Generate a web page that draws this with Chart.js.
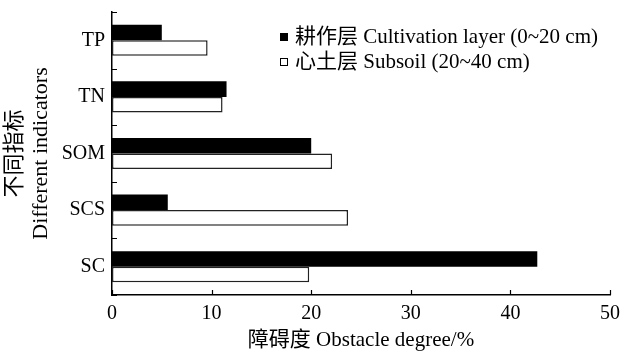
<!DOCTYPE html>
<html>
<head>
<meta charset="utf-8">
<script src="https://cdn.jsdelivr.net/npm/chart.js@4/dist/chart.umd.min.js"></script>
<style>
  html, body { margin: 0; padding: 0; background: #fff; }
  #wrap { width: 622px; height: 353px; position: relative; }
</style>
</head>
<body>
<div id="wrap"><canvas id="c" width="622" height="353"></canvas></div>
<script>
// Indicators (top to bottom) and obstacle degree (%) per soil layer
const indicators = ['TP', 'TN', 'SOM', 'SCS', 'SC'];
const cultivationLayer = [5.0, 11.5, 20.0, 5.6, 42.7];
const subsoilLayer = [9.6, 11.1, 22.1, 23.7, 19.8];
const xTicks = [0, 10, 20, 30, 40, 50];
const seriesLabels = ['耕作层 Cultivation layer (0~20 cm)', '心土层 Subsoil (20~40 cm)'];

const SERIF = '"Liberation Serif", "Times New Roman", "Noto Sans CJK SC", serif';

// Inward tick marks on both axes
const innerTicks = {
  id: 'innerTicks',
  afterDraw(chart) {
    const { ctx, scales: { x, y } } = chart;
    ctx.save();
    ctx.strokeStyle = '#000';
    ctx.lineWidth = 1.2;
    ctx.beginPath();
    xTicks.forEach(v => {
      const px = Math.round(x.getPixelForValue(v)) + 0.5;
      ctx.moveTo(px, y.bottom);
      ctx.lineTo(px, y.bottom - 5);
    });
    const n = indicators.length;
    const half = (y.getPixelForValue(1) - y.getPixelForValue(0)) / 2;
    for (let i = 0; i <= n; i++) {
      const py = Math.round(y.getPixelForValue(i) - half) + 0.5;
      ctx.moveTo(x.left, py);
      ctx.lineTo(x.left + 5, py);
    }
    ctx.stroke();
    ctx.restore();
  }
};

// Legend drawn as square markers with text, top right of the plot
const boxLegend = {
  id: 'boxLegend',
  afterDraw(chart) {
    const { ctx } = chart;
    ctx.save();
    ctx.font = '21px ' + SERIF;
    ctx.textBaseline = 'middle';
    const rows = [
      { y: 37, fill: '#000' },
      { y: 62, fill: '#fff' }
    ];
    rows.forEach((r, i) => {
      ctx.fillStyle = r.fill;
      ctx.fillRect(280, r.y - 4, 8, 8);
      ctx.strokeStyle = '#000';
      ctx.lineWidth = 1;
      ctx.strokeRect(280.5, r.y - 3.5, 7, 7);
      ctx.fillStyle = '#000';
      ctx.fillText(seriesLabels[i], 295, r.y);
    });
    ctx.restore();
  }
};

new Chart(document.getElementById('c'), {
  type: 'bar',
  data: {
    labels: indicators,
    datasets: [
      {
        label: seriesLabels[0],
        data: cultivationLayer,
        backgroundColor: '#000',
        borderColor: '#000',
        borderWidth: 0
      },
      {
        label: seriesLabels[1],
        data: subsoilLayer,
        backgroundColor: '#fff',
        borderColor: '#222',
        borderWidth: 1.5,
        borderSkipped: false
      }
    ]
  },
  options: {
    indexAxis: 'y',
    responsive: false,
    animation: false,
    devicePixelRatio: 1,
    categoryPercentage: 0.55,
    barPercentage: 1.0,
    layout: { padding: { left: 0, top: 12, right: 12, bottom: 0 } },
    plugins: { legend: { display: false }, tooltip: { enabled: false } },
    scales: {
      x: {
        type: 'linear',
        min: 0,
        max: 50,
        afterBuildTicks(s) { s.ticks = xTicks.map(v => ({ value: v })); },
        grid: { display: false, drawTicks: false },
        border: { display: true, color: '#000', width: 1.5 },
        ticks: { color: '#000', font: { family: SERIF, size: 20 }, padding: 7 },
        title: {
          display: true,
          text: '障碍度 Obstacle degree/%',
          color: '#000',
          font: { family: SERIF, size: 21 },
          padding: { top: 3, bottom: 0 }
        },
        afterFit(s) {
          s.height = 58;
          s.paddingLeft = 0;
          s.paddingRight = 0;
        }
      },
      y: {
        type: 'category',
        offset: true,
        grid: { display: false, drawTicks: false, offset: true },
        border: { display: true, color: '#000', width: 1.5 },
        ticks: { color: '#000', font: { family: SERIF, size: 20 }, padding: 7 },
        title: {
          display: true,
          text: ['不同指标', 'Different indicators'],
          color: '#000',
          font: { family: SERIF, size: 22, lineHeight: 1.15 },
          padding: { top: 3, bottom: 0 }
        },
        afterFit(s) {
          s.width = 112;
          s.paddingTop = 0;
          s.paddingBottom = 0;
        }
      }
    }
  },
  plugins: [innerTicks, boxLegend]
});
</script>
</body>
</html>
